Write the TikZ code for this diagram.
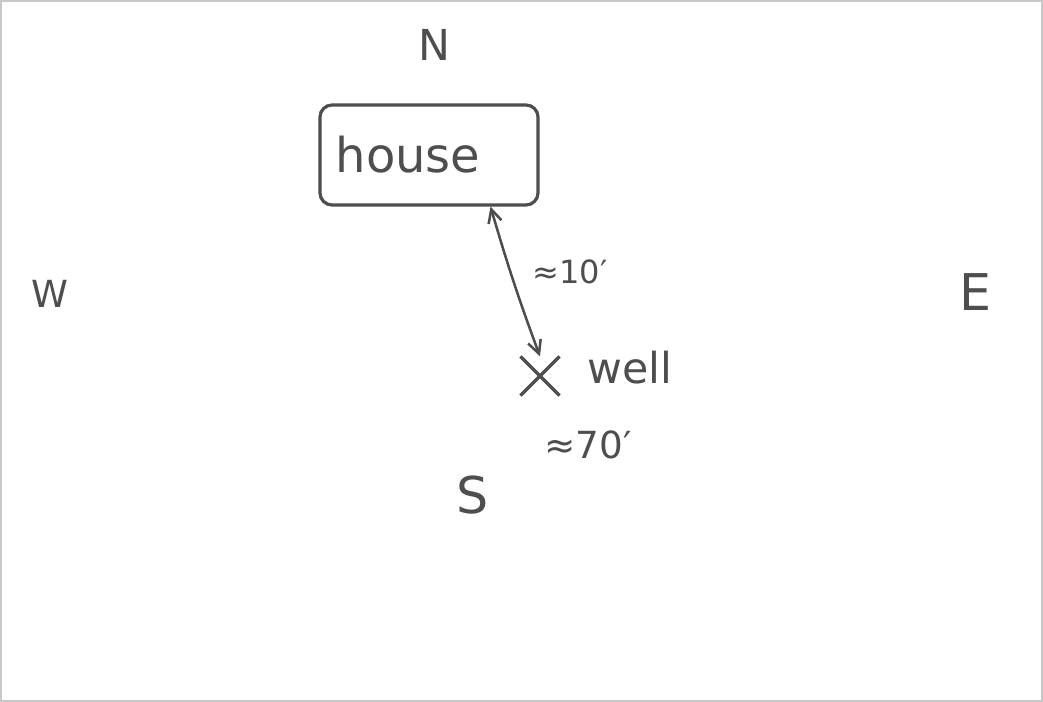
\documentclass[tikz,border=0pt]{standalone}
\usepackage{fontspec}
\setmainfont{DejaVu Sans}
\usetikzlibrary{arrows.meta,shapes.misc}
\definecolor{ink}{HTML}{4E4E4E}
\definecolor{frame}{HTML}{C8C8C8}
\begin{document}
\begin{tikzpicture}[x=0.75pt,y=-0.75pt,
  lbl/.style={text=ink,inner sep=0pt},
  boxstyle/.style={draw=ink,line width=2.4pt,rounded corners=9pt,text=ink,
    minimum width=163.5pt,minimum height=75pt,text width=140pt,inner xsep=11.75pt,
    align=left,font=\fontsize{36}{42}\selectfont},
  markstyle/.style={draw=ink,line width=2.4pt,cross out,minimum size=27pt,inner sep=0pt},
  link/.style={draw=ink,line width=1.9pt,{Straight Barb[length=10pt,width=10pt]}-{Straight Barb[length=10pt,width=10pt]}}]
\useasboundingbox (0,0) rectangle (1043,702);
\fill[white] (0,0) rectangle (1043,702);
\draw[frame,line width=1.5pt] (1,1) rectangle (1042,701);
\node[lbl,font=\fontsize{32}{38}\selectfont] (n) at (434,45) {N};
\node[lbl,font=\fontsize{28}{32}\selectfont] (w) at (50,294) {W};
\node[lbl,font=\fontsize{38}{44}\selectfont] (e) at (975,292) {E};
\node[lbl,font=\fontsize{38}{44}\selectfont] (s) at (473,495) {S};
\node[boxstyle] (house) at (429,155) {house};
\node[markstyle] (xmark) at (540,376) {};
\node[lbl,font=\fontsize{32}{38}\selectfont] (well) at (630,368) {well};
\node[lbl,font=\fontsize{24}{28}\selectfont] (d1) at (570,272) {≈10′};
\node[lbl,font=\fontsize{28}{32}\selectfont] (d2) at (588,445) {≈70′};
\draw[link] (house.-40) to[bend right=2] (xmark.north);
\end{tikzpicture}
\end{document}
